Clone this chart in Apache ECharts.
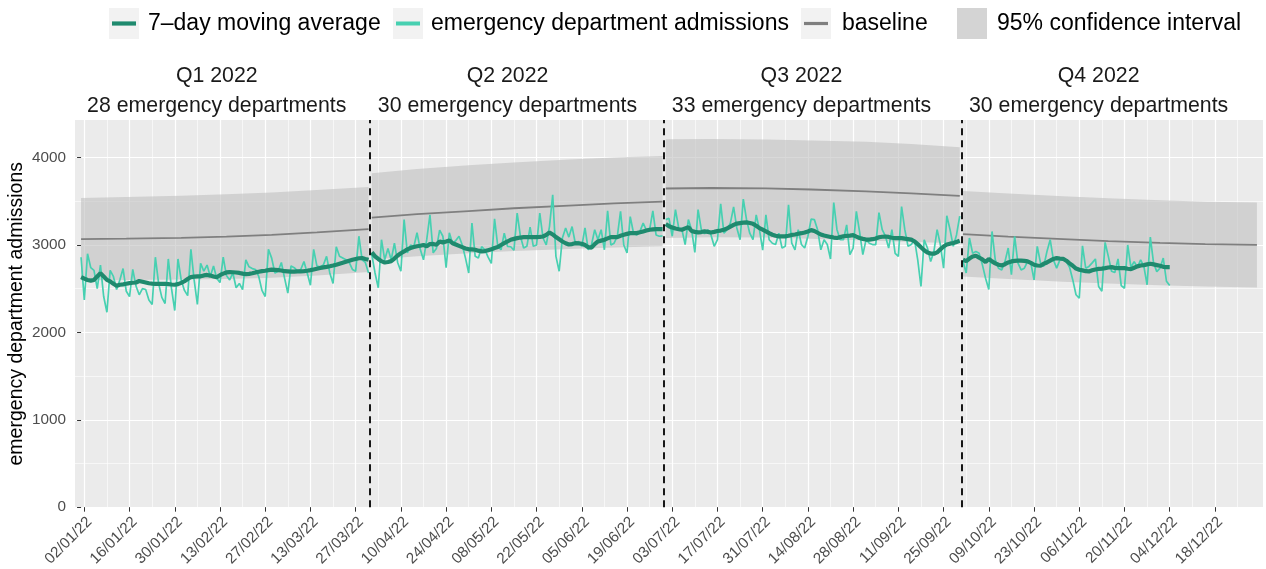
<!DOCTYPE html>
<html><head><meta charset="utf-8">
<script src="https://cdn.jsdelivr.net/npm/echarts@6/dist/echarts.min.js"></script>
<style>html,body{margin:0;padding:0;background:#fff}#chart{width:1266px;height:569px}</style>
</head><body><div id="chart"></div>
<script>
// ---------- data ----------
const quarterStarts = ['2022-01-01', '2022-04-01', '2022-07-01', '2022-10-01'];
const quarterTitles = ['Q1 2022', 'Q2 2022', 'Q3 2022', 'Q4 2022'];
const quarterSubtitles = ['28 emergency departments', '30 emergency departments', '33 emergency departments', '30 emergency departments'];
const quarterBreaks = ['2022-04-01', '2022-07-01', '2022-10-01'];

const majorTickDates = ['2022-01-02','2022-01-16','2022-01-30','2022-02-13','2022-02-27','2022-03-13','2022-03-27','2022-04-10','2022-04-24','2022-05-08','2022-05-22','2022-06-05','2022-06-19','2022-07-03','2022-07-17','2022-07-31','2022-08-14','2022-08-28','2022-09-11','2022-09-25','2022-10-09','2022-10-23','2022-11-06','2022-11-20','2022-12-04','2022-12-18'];
const minorGridDates = ['2022-01-09','2022-01-23','2022-02-06','2022-02-20','2022-03-06','2022-03-20','2022-04-03','2022-04-17','2022-05-01','2022-05-15','2022-05-29','2022-06-12','2022-06-26','2022-07-10','2022-07-24','2022-08-07','2022-08-21','2022-09-04','2022-09-18','2022-10-02','2022-10-16','2022-10-30','2022-11-13','2022-11-27','2022-12-11','2022-12-25'];
const yTickValues = [0, 1000, 2000, 3000, 4000];
const yMinorValues = [500, 1500, 2500, 3500];

// daily emergency department admissions (from quarter start)
const q1Admissions = [
 2860,2370,2900,2740,2710,2500,2770,
 2410,2230,2710,2640,2490,2600,2730,
 2470,2410,2720,2530,2430,2500,2490,
 2370,2320,2860,2560,2400,2330,2840,
 2500,2250,2840,2600,2480,2420,2950,
 2600,2320,2790,2700,2770,2640,2760,
 2620,2570,2860,2650,2600,2680,2510,
 2560,2490,2830,2750,2730,2720,2640,
 2480,2410,2950,2850,2680,2700,2800,
 2620,2450,2760,2740,2700,2720,2810,
 2680,2540,2950,2760,2750,2770,2870,
 2680,2560,2980,2870,2850,2830,2800,
 2720,2700,3100,2830,2800,2680];
const q2Admissions = [
 2890,2680,2510,3060,2830,2960,2830,
 3020,2800,2700,3290,2910,3000,2980,
 3140,2950,2830,3060,3345,2910,2960,
 3170,3100,2740,3140,3020,3050,3100,
 3000,2850,2680,3250,2870,2850,2980,
 2945,2860,2790,3300,2985,2945,3135,
 2985,2980,2940,3365,3100,2965,2985,
 3205,2985,3000,3365,3080,3000,3210,
 3575,2870,2700,3080,3195,3090,3210,
 3020,3040,2985,3195,2945,3000,3175,
 3060,3175,2945,3390,3000,3020,3100,
 3385,3000,2910,3325,3140,3115,3155,
 3250,3170,3175,3390,3115,3100,3105];
const q3Admissions = [
 3290,3305,3100,3405,3195,3175,3005,
 3290,3175,2915,3405,3175,3130,3175,
 3115,2985,3060,3470,3135,3175,3250,
 3435,3195,3060,3525,3290,3135,3060,
 3345,3175,2940,3345,3060,3020,3005,
 3135,2965,2985,3460,3020,2945,3175,
 3005,2965,3100,3295,3290,3175,2945,
 3060,3005,2840,3485,3175,3060,3060,
 3230,2890,2965,3385,3150,2890,3060,
 3020,3005,3005,3370,3175,3100,2965,
 3175,2905,2870,3440,3175,2985,3005,
 3060,2830,2525,3060,2965,2810,2925,
 3175,3005,2735,3335,3175,2985,3115,
 3330];
const q4Admissions = [
 2810,2680,3080,2905,2925,2905,2775,
 2620,2490,3155,2830,2735,2715,2810,
 2965,2660,3100,2795,2715,2735,2810,
 2795,2600,2985,2795,2755,2925,3060,
 2830,2735,2830,2830,2810,2745,2600,
 2430,2390,2990,2735,2755,2795,2840,
 2525,2470,3030,2870,2700,2685,2840,
 2535,2505,3000,2745,2810,2745,2830,
 2755,2545,3090,2795,2695,2735,2850,
 2585,2535];

// 7-day moving average (from quarter start)
const q1MovingAverage = [
 2633,2615,2600,2592,2600,2640,2678,2640,2600,2583,
 2556,2533,2545,2550,2556,2564,2568,2571,2588,2580,
 2571,2562,2558,2556,2556,2556,2556,2552,2548,2545,
 2552,2566,2585,2610,2633,2638,2640,2641,2652,2657,
 2650,2640,2630,2655,2672,2686,2690,2688,2685,2680,
 2672,2667,2670,2676,2686,2694,2700,2705,2712,2718,
 2715,2712,2708,2700,2698,2696,2695,2697,2698,2700,
 2705,2712,2720,2728,2736,2744,2750,2757,2765,2774,
 2785,2796,2808,2820,2831,2840,2848,2850,2840,2831];
const q2MovingAverage = [
 2915,2870,2840,2815,2800,2805,2815,2845,2880,2905,
 2926,2950,2965,2976,2985,2991,3000,2985,3010,3012,
 3003,3040,3030,3040,3052,3020,3005,2990,2975,2960,
 2950,2950,2945,2935,2926,2930,2940,2950,2965,2976,
 3000,3021,3040,3060,3070,3078,3085,3090,3090,3090,
 3090,3090,3092,3097,3115,3143,3120,3090,3065,3040,
 3020,3005,3010,3021,3018,3014,3000,2975,2970,3010,
 3040,3050,3060,3075,3090,3090,3090,3105,3117,3127,
 3136,3136,3136,3145,3155,3165,3174,3178,3181,3181,
 3181];
const q3MovingAverage = [
 3239,3215,3200,3188,3180,3174,3190,3204,3160,3150,
 3145,3148,3155,3150,3143,3150,3160,3165,3174,3190,
 3210,3230,3245,3250,3255,3258,3252,3242,3220,3193,
 3175,3155,3135,3117,3105,3098,3098,3098,3105,3115,
 3120,3128,3135,3143,3155,3170,3160,3140,3120,3108,
 3100,3092,3085,3080,3090,3100,3105,3108,3112,3095,
 3080,3070,3062,3062,3066,3075,3088,3094,3097,3092,
 3083,3079,3080,3079,3072,3067,3062,3040,3010,2975,
 2940,2915,2902,2900,2915,2950,2983,3005,3015,3022,
 3035,3048];
const q4MovingAverage = [
 2831,2815,2845,2868,2877,2855,2835,2805,2840,2812,
 2790,2774,2765,2780,2800,2812,2818,2820,2820,2818,
 2812,2795,2774,2765,2762,2785,2800,2820,2840,2850,
 2845,2842,2820,2790,2762,2730,2716,2709,2700,2697,
 2710,2720,2726,2730,2735,2742,2747,2738,2735,2735,
 2735,2728,2724,2740,2755,2765,2770,2778,2785,2778,
 2770,2762,2750,2747,2747];

// baseline and 95% confidence interval
const q1BaselineDates = ['2022-01-01','2022-01-15','2022-02-01','2022-02-15','2022-03-01','2022-03-15','2022-03-31'];
const q1Baseline = [3067,3072,3082,3096,3115,3145,3182];
const q1Lower    = [2597,2600,2605,2612,2625,2650,2690];
const q1Upper    = [3537,3548,3562,3580,3600,3630,3662];
const q2BaselineDates = ['2022-04-01','2022-04-15','2022-05-01','2022-05-15','2022-06-01','2022-06-15','2022-06-30'];
const q2Baseline = [3314,3352,3388,3420,3450,3475,3497];
const q2Lower    = [2831,2870,2905,2930,2955,2972,2985];
const q2Upper    = [3822,3870,3912,3945,3978,4000,4019];
const q3BaselineDates = ['2022-07-01','2022-07-15','2022-08-01','2022-08-15','2022-09-01','2022-09-15','2022-09-30'];
const q3Baseline = [3646,3652,3648,3635,3614,3590,3562];
const q3Lower    = [3080,3088,3085,3072,3050,3035,3020];
const q3Upper    = [4210,4212,4206,4196,4180,4155,4119];
const q4BaselineDates = ['2022-10-01','2022-10-15','2022-11-01','2022-11-15','2022-12-01','2022-12-15','2022-12-31'];
const q4Baseline = [3125,3095,3068,3045,3025,3010,3002];
const q4Lower    = [2640,2610,2580,2558,2538,2524,2514];
const q4Upper    = [3619,3590,3558,3535,3512,3495,3486];

const legendLabels = ['7\u2013day moving average', 'emergency department admissions', 'baseline', '95% confidence interval'];

// ---------- helpers ----------
const DAY = 86400000, ORIGIN = Date.UTC(2022, 0, 1);
function dayNum(s) { const p = s.split('-').map(Number); return (Date.UTC(p[0], p[1] - 1, p[2]) - ORIGIN) / DAY; }
function fmt(v) {
  const d = new Date(ORIGIN + Math.round(v) * DAY);
  const p = n => String(n).padStart(2, '0');
  return p(d.getUTCDate()) + '/' + p(d.getUTCMonth() + 1) + '/' + String(d.getUTCFullYear()).slice(2);
}
const FONT = '"Liberation Sans", Arial, Helvetica, sans-serif';
const DARK = '#1f8a6e', LIGHT = '#47d0b1', GREY = '#7f7f7f', BAND = 'rgba(190,190,190,0.58)';

const quarters = [
  {start: quarterStarts[0], adm: q1Admissions, ma: q1MovingAverage, bd: q1BaselineDates, base: q1Baseline, lo: q1Lower, up: q1Upper},
  {start: quarterStarts[1], adm: q2Admissions, ma: q2MovingAverage, bd: q2BaselineDates, base: q2Baseline, lo: q2Lower, up: q2Upper},
  {start: quarterStarts[2], adm: q3Admissions, ma: q3MovingAverage, bd: q3BaselineDates, base: q3Baseline, lo: q3Lower, up: q3Upper},
  {start: quarterStarts[3], adm: q4Admissions, ma: q4MovingAverage, bd: q4BaselineDates, base: q4Baseline, lo: q4Lower, up: q4Upper}
];

const series = [];
// confidence-interval ribbons: one polygon per quarter, positioned through the axes
series.push({
  name: '95% confidence interval', type: 'custom', silent: true, z: 1,
  encode: {x: 0, y: 1},
  data: quarters.map(q => [dayNum(q.bd[0]), q.lo[0]]),
  renderItem: function (params, api) {
    const q = quarters[params.dataIndex];
    const pts = [];
    q.bd.forEach((d, i) => pts.push(api.coord([dayNum(d), q.up[i]])));
    for (let i = q.bd.length - 1; i >= 0; i--) pts.push(api.coord([dayNum(q.bd[i]), q.lo[i]]));
    return {type: 'polygon', shape: {points: pts}, style: {fill: BAND}};
  }
});
quarters.forEach((q, k) => {
  const s0 = dayNum(q.start);
  series.push({
    name: 'baseline', type: 'line', silent: true, symbol: 'none', z: 2,
    lineStyle: {color: GREY, width: 1.8},
    data: q.bd.map((d, i) => [dayNum(d), q.base[i]])
  });
  series.push({
    name: 'emergency department admissions', type: 'line', silent: true, symbol: 'none', z: 3,
    lineStyle: {color: LIGHT, width: 1.7},
    data: q.adm.map((v, i) => [s0 + i, v])
  });
  const maSeries = {
    name: '7-day moving average', type: 'line', silent: true, symbol: 'none', z: 4,
    lineStyle: {color: DARK, width: 4.2},
    data: q.ma.map((v, i) => [s0 + i, v])
  };
  if (k === 0) {
    maSeries.markLine = {
      silent: true, symbol: ['none', 'none'], label: {show: false}, animation: false,
      lineStyle: {color: '#000', type: [7, 5], width: 1.8},
      data: quarterBreaks.map(d => ({xAxis: dayNum(d) - 0.5}))
    };
  }
  series.push(maSeries);
});

const majorTicks = majorTickDates.map(dayNum);
const minorTicks = minorGridDates.map(dayNum);
const X_MIN = -1.88, X_MAX = 365.88;

const chart = echarts.init(document.getElementById('chart'), null, {renderer: 'canvas'});
chart.setOption({
  animation: false,
  backgroundColor: '#ffffff',
  grid: {left: 75, right: 3, top: 120, bottom: 61.5, show: true, backgroundColor: '#ebebeb', borderWidth: 0},
  xAxis: [
    {type: 'value', min: X_MIN, max: X_MAX, position: 'bottom',
     axisLine: {show: false},
     axisTick: {show: true, length: 4.5, lineStyle: {color: '#333333', width: 1}, customValues: majorTicks},
     axisLabel: {customValues: majorTicks, rotate: 45, align: 'right', verticalAlign: 'top', margin: 7,
                 color: '#4d4d4d', fontSize: 15.3, fontFamily: FONT, formatter: fmt},
     splitLine: {show: true, lineStyle: {color: '#ffffff', width: 1.2}}},
    {type: 'value', min: X_MIN, max: X_MAX, position: 'top',
     axisLine: {show: false},
     axisTick: {show: false, customValues: minorTicks},
     axisLabel: {show: false, customValues: minorTicks},
     splitLine: {show: true, lineStyle: {color: '#ffffff', width: 0.6}}}
  ],
  yAxis: [
    {type: 'value', min: 0, max: 4430,
     axisLine: {show: false},
     axisTick: {show: true, length: 4, lineStyle: {color: '#333333', width: 1}, customValues: yTickValues},
     axisLabel: {customValues: yTickValues, color: '#4d4d4d', fontSize: 15.3, fontFamily: FONT, margin: 9,
                 formatter: v => String(Math.round(v))},
     splitLine: {show: true, lineStyle: {color: '#ffffff', width: 1.2}}},
    {type: 'value', min: 0, max: 4430, position: 'right',
     axisLine: {show: false},
     axisTick: {show: false, customValues: yMinorValues},
     axisLabel: {show: false, customValues: yMinorValues},
     splitLine: {show: true, lineStyle: {color: '#ffffff', width: 0.6}}}
  ],
  series: series
});

// ---------- annotations & legend ----------
const graphics = [];
quarters.forEach((q, k) => {
  const px = chart.convertToPixel({xAxisIndex: 0}, dayNum(q.start) + 42);
  graphics.push({type: 'text', x: px, y: 76, silent: true,
    style: {text: quarterTitles[k], fontSize: 21.3, fontFamily: FONT, fill: '#1a1a1a', align: 'center', verticalAlign: 'middle'}});
  graphics.push({type: 'text', x: px, y: 106, silent: true,
    style: {text: quarterSubtitles[k], fontSize: 21.3, fontFamily: FONT, fill: '#1a1a1a', align: 'center', verticalAlign: 'middle'}});
});
graphics.push({type: 'text', x: 17, y: 313.75, rotation: Math.PI / 2, silent: true,
  style: {text: 'emergency department admissions', fontSize: 19.5, fontFamily: FONT, fill: '#000', align: 'center', verticalAlign: 'middle'}});

const keyX = [109, 393, 801, 957], textX = [148, 431, 842, 997];
const keyColor = [DARK, LIGHT, GREY], keyWidth = [4.2, 4, 3.2];
legendLabels.forEach((lab, i) => {
  graphics.push({type: 'rect', silent: true, shape: {x: keyX[i], y: 8, width: 30, height: 31}, style: {fill: '#f2f2f2'}});
  if (i < 3) {
    graphics.push({type: 'line', silent: true, shape: {x1: keyX[i] + 3, y1: 23.5, x2: keyX[i] + 27, y2: 23.5},
      style: {stroke: keyColor[i], lineWidth: keyWidth[i]}});
  } else {
    graphics.push({type: 'rect', silent: true, shape: {x: keyX[i], y: 8, width: 30, height: 31}, style: {fill: BAND}});
  }
  graphics.push({type: 'text', x: textX[i], y: 24, silent: true,
    style: {text: lab, fontSize: 23, fontFamily: FONT, fill: '#000', align: 'left', verticalAlign: 'middle'}});
});
chart.setOption({graphic: graphics});
</script>
</body></html>
